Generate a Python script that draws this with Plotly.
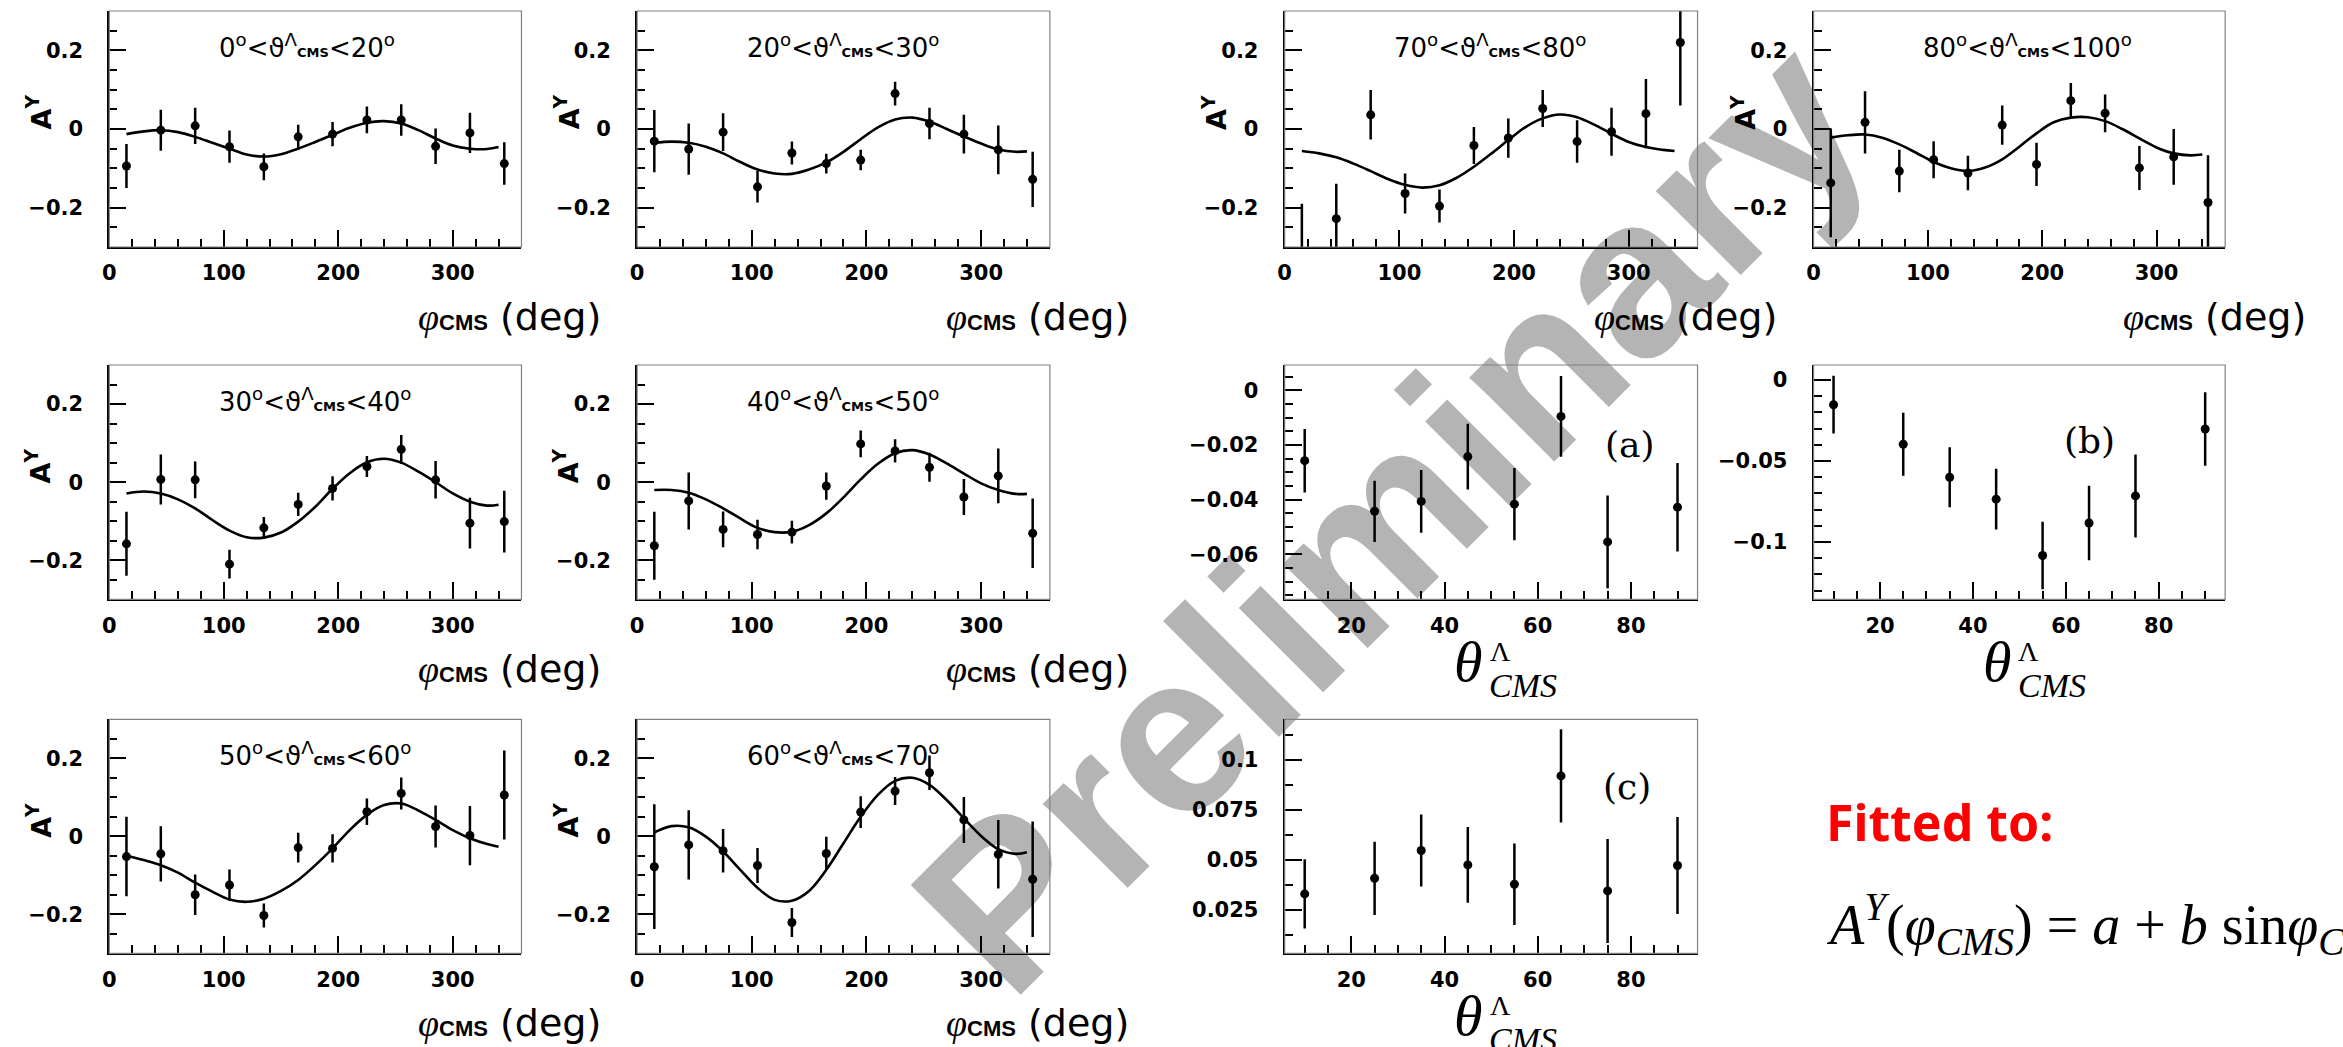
import plotly.graph_objects as go

W, H = 2343, 1047

# ---------------- data ----------------
phi_centers = [15, 45, 75, 105, 135, 165, 195, 225, 255, 285, 315, 345]
fit_phi = [15, 30, 45, 60, 75, 90, 105, 120, 135, 150, 165, 180, 195, 210, 225, 240, 255, 270, 285, 300, 315, 330, 340]

ay_0_20 = [-0.094, -0.003, 0.008, -0.045, -0.096, -0.020, -0.013, 0.023, 0.023, -0.044, -0.010, -0.088]
err_0_20 = [0.056, 0.052, 0.046, 0.041, 0.034, 0.031, 0.031, 0.034, 0.040, 0.045, 0.051, 0.054]
fit_0_20 = [-0.013, -0.006, -0.003, -0.008, -0.020, -0.035, -0.050, -0.065, -0.070, -0.064, -0.050, -0.033,
            -0.015, 0.003, 0.016, 0.020, 0.014, -0.003, -0.024, -0.042, -0.050, -0.051, -0.046]

ay_20_30 = [-0.031, -0.051, -0.008, -0.147, -0.061, -0.088, -0.079, 0.090, 0.014, -0.013, -0.053, -0.128]
err_20_30 = [0.079, 0.065, 0.048, 0.040, 0.029, 0.025, 0.026, 0.030, 0.040, 0.049, 0.062, 0.070]
fit_20_30 = [-0.035, -0.032, -0.035, -0.045, -0.062, -0.084, -0.103, -0.113, -0.114, -0.103, -0.085, -0.058,
             -0.026, 0.004, 0.024, 0.029, 0.019, 0.000, -0.019, -0.037, -0.052, -0.058, -0.057]

ay_30_40 = [-0.158, 0.007, 0.006, -0.210, -0.117, -0.057, -0.016, 0.040, 0.084, 0.006, -0.105, -0.101]
err_30_40 = [0.082, 0.064, 0.047, 0.037, 0.028, 0.030, 0.031, 0.027, 0.037, 0.048, 0.065, 0.079]
fit_30_40 = [-0.029, -0.024, -0.029, -0.044, -0.067, -0.097, -0.124, -0.141, -0.142, -0.129, -0.101, -0.063,
             -0.017, 0.023, 0.051, 0.060, 0.050, 0.027, 0.000, -0.029, -0.050, -0.060, -0.058]

ay_40_50 = [-0.163, -0.048, -0.121, -0.134, -0.128, -0.010, 0.098, 0.080, 0.038, -0.038, 0.016, -0.131]
err_40_50 = [0.087, 0.073, 0.046, 0.038, 0.029, 0.035, 0.034, 0.030, 0.037, 0.046, 0.070, 0.089]
fit_40_50 = [-0.020, -0.020, -0.027, -0.044, -0.067, -0.093, -0.117, -0.128, -0.127, -0.110, -0.080, -0.039,
             0.007, 0.047, 0.074, 0.082, 0.071, 0.048, 0.022, -0.003, -0.020, -0.030, -0.030]

ay_50_60 = [-0.052, -0.045, -0.150, -0.125, -0.203, -0.029, -0.031, 0.063, 0.110, 0.025, 0.002, 0.106]
err_50_60 = [0.102, 0.071, 0.052, 0.040, 0.031, 0.038, 0.036, 0.034, 0.041, 0.054, 0.076, 0.114]
fit_50_60 = [-0.050, -0.061, -0.074, -0.093, -0.119, -0.142, -0.162, -0.168, -0.160, -0.140, -0.112, -0.074,
             -0.031, 0.016, 0.055, 0.080, 0.084, 0.066, 0.042, 0.016, -0.005, -0.020, -0.027]

ay_60_70 = [-0.078, -0.022, -0.037, -0.075, -0.221, -0.044, 0.062, 0.116, 0.163, 0.042, -0.046, -0.110]
err_60_70 = [0.160, 0.089, 0.056, 0.045, 0.037, 0.043, 0.041, 0.036, 0.044, 0.059, 0.088, 0.148]
fit_60_70 = [0.010, 0.026, 0.023, -0.001, -0.039, -0.086, -0.132, -0.163, -0.165, -0.140, -0.086, -0.018,
             0.050, 0.106, 0.142, 0.150, 0.132, 0.093, 0.046, 0.001, -0.033, -0.045, -0.041]

ay_70_80 = [-0.350, -0.228, 0.036, -0.164, -0.196, -0.042, -0.023, 0.052, -0.032, -0.007, 0.039, 0.220]
err_70_80 = [0.160, 0.089, 0.063, 0.051, 0.042, 0.047, 0.050, 0.047, 0.054, 0.061, 0.088, 0.160]
fit_70_80 = [-0.056, -0.062, -0.072, -0.088, -0.107, -0.127, -0.142, -0.149, -0.143, -0.124, -0.096, -0.063,
             -0.028, 0.005, 0.027, 0.037, 0.030, 0.011, -0.012, -0.033, -0.046, -0.053, -0.056]

ay_80_100 = [-0.137, 0.017, -0.107, -0.078, -0.112, 0.010, -0.090, 0.072, 0.040, -0.099, -0.071, -0.187]
err_80_100 = [0.138, 0.079, 0.054, 0.047, 0.044, 0.050, 0.055, 0.045, 0.048, 0.056, 0.071, 0.120]
fit_80_100 = [-0.022, -0.016, -0.014, -0.022, -0.039, -0.061, -0.084, -0.100, -0.107, -0.098, -0.077, -0.045,
              -0.011, 0.017, 0.029, 0.030, 0.020, 0.000, -0.024, -0.047, -0.062, -0.067, -0.065]

theta_centers = [10, 25, 35, 45, 55, 65, 75, 90]
a_vals = [-0.0257, -0.0442, -0.0406, -0.0242, -0.0416, -0.0095, -0.0554, -0.0427]
a_err = [0.0116, 0.0112, 0.0115, 0.0120, 0.0132, 0.0148, 0.0170, 0.0162]
b_vals = [-0.0153, -0.0397, -0.0601, -0.0736, -0.1084, -0.0883, -0.0716, -0.0303]
b_err = [0.0178, 0.0194, 0.0185, 0.0187, 0.0208, 0.0230, 0.0256, 0.0227]
c_vals = [0.0330, 0.0408, 0.0547, 0.0475, 0.0378, 0.0920, 0.0345, 0.0472]
c_err = [0.0173, 0.0183, 0.0180, 0.0189, 0.0204, 0.0233, 0.0260, 0.0243]

phi_ticks = [0, 100, 200, 300]
phi_ticktext = ["0", "100", "200", "300"]
ay_ticks = [-0.2, 0, 0.2]
ay_ticktext = ["\u22120.2", "0", "0.2"]
theta_ticks = [20, 40, 60, 80]
theta_ticktext = ["20", "40", "60", "80"]
a_ticks = [-0.06, -0.04, -0.02, 0]
a_ticktext = ["\u22120.06", "\u22120.04", "\u22120.02", "0"]
b_ticks = [-0.1, -0.05, 0]
b_ticktext = ["\u22120.1", "\u22120.05", "0"]
c_ticks = [0.025, 0.05, 0.075, 0.1]
c_ticktext = ["0.025", "0.05", "0.075", "0.1"]

# ---------------- layout geometry (pixels) ----------------
col_x = [(102.6, 516.0), (632.0, 1046.0), (1281.5, 1695.6), (1812.0, 2224.8)]
row_y = [(11.0, 247.0), (365.0, 599.3), (719.3, 953.3)]

phi_panels = [
    (0, 0, "0", "20", ay_0_20, err_0_20, fit_0_20),
    (0, 1, "20", "30", ay_20_30, err_20_30, fit_20_30),
    (0, 2, "70", "80", ay_70_80, err_70_80, fit_70_80),
    (0, 3, "80", "100", ay_80_100, err_80_100, fit_80_100),
    (1, 0, "30", "40", ay_30_40, err_30_40, fit_30_40),
    (1, 1, "40", "50", ay_40_50, err_40_50, fit_40_50),
    (2, 0, "50", "60", ay_50_60, err_50_60, fit_50_60),
    (2, 1, "60", "70", ay_60_70, err_60_70, fit_60_70),
]
theta_panels = [
    (1, 2, "(a)", a_vals, a_err, [-0.0764, 0.0093], a_ticks, a_ticktext, 0.005, 79.8, -0.0196),
    (1, 3, "(b)", b_vals, b_err, [-0.1354, 0.0092], b_ticks, b_ticktext, 0.01, 65.2, -0.0372),
    (2, 2, "(c)", c_vals, c_err, [0.0033, 0.1203], c_ticks, c_ticktext, 0.0125, 79.2, 0.0867),
]

TICKFONT = dict(family="DejaVu Sans", size=21, color="black", weight="bold")

fig = go.Figure()
layout = dict(width=W, height=H, margin=dict(l=0, r=0, t=0, b=0),
              paper_bgcolor="white", plot_bgcolor="white", showlegend=False)
annotations = []
shapes = []


def px_x(x):
    return x / W


def px_y(y):
    return 1 - y / H


def axis_common():
    return dict(showline=True, linecolor="black", linewidth=2, ticks="inside", ticklen=17,
                tickwidth=2, tickcolor="black", showgrid=False, zeroline=False,
                tickfont=TICKFONT, fixedrange=True, tickmode="array")


idx = 0


def add_axes(r, c, xr, xt, xtt, xminor, yr, yt, ytt, yminor, ytick0):
    global idx
    idx += 1
    sx = "" if idx == 1 else str(idx)
    (x0, x1), (y0, y1) = col_x[c], row_y[r]
    xa = axis_common()
    xa.update(domain=[px_x(x0), px_x(x1)], range=xr, anchor="y" + sx, tickvals=xt, ticktext=xtt,
              ticklabelstandoff=6,
              minor=dict(ticks="inside", ticklen=8, tickwidth=2, tickcolor="black",
                         tickmode="linear", tick0=0, dtick=xminor, showgrid=False))
    ya = axis_common()
    ya.update(domain=[px_y(y1), px_y(y0)], range=yr, anchor="x" + sx, tickvals=yt, ticktext=ytt,
              ticklabelstandoff=20,
              minor=dict(ticks="inside", ticklen=8, tickwidth=2, tickcolor="black",
                         tickmode="linear", tick0=ytick0, dtick=yminor, showgrid=False))
    layout["xaxis" + sx] = xa
    layout["yaxis" + sx] = ya
    shapes.append(dict(type="rect", xref="x%s domain" % sx, yref="y%s domain" % sx,
                       x0=0, x1=1, y0=0, y1=1, line=dict(color="#808080", width=1.2), layer="above"))
    return "x" + sx, "y" + sx, (x0, x1, y0, y1)


for (r, c, lo, hi, vals, errs, fitv) in phi_panels:
    xa, ya, (x0, x1, y0, y1) = add_axes(r, c, [0, 360], phi_ticks, phi_ticktext, 20,
                                        [-0.3, 0.3], ay_ticks, ay_ticktext, 0.05, 0)
    fig.add_trace(go.Scatter(x=fit_phi, y=fitv, mode="lines", xaxis=xa, yaxis=ya,
                             line=dict(color="black", width=2.6, shape="spline", smoothing=1.0),
                             hoverinfo="skip"))
    fig.add_trace(go.Scatter(x=phi_centers, y=vals, mode="markers", xaxis=xa, yaxis=ya,
                             marker=dict(color="black", size=9),
                             error_y=dict(type="data", array=errs, visible=True, color="black",
                                          thickness=2.5, width=0)))
    # panel title
    annotations.append(dict(
        xref="paper", yref="paper", x=px_x(x0 + 108), y=px_y(y0 + 35), xanchor="left", yanchor="middle",
        showarrow=False, font=dict(family="DejaVu Sans", size=26, color="black"),
        text=f"{lo}<sup>o</sup>&lt;ϑ<sup>Λ</sup><span style='font-size:13px;font-weight:bold'>CMS</span>&lt;{hi}<sup>o</sup>"))
    # y title
    annotations.append(dict(
        xref="paper", yref="paper", x=px_x(x0 - 71), y=px_y(y0 + 101), xanchor="center", yanchor="middle",
        showarrow=False, textangle=-90, font=dict(family="DejaVu Sans", size=27, color="black", weight="bold"),
        text="A<sup>Y</sup>"))
    # x title
    annotations.append(dict(
        xref="paper", yref="paper", x=px_x(x0 + 308), y=px_y(y1 + 70), xanchor="left", yanchor="middle",
        showarrow=False, font=dict(family="DejaVu Sans", size=38, color="black"),
        text="<span style=\"font-family:'Liberation Serif';font-style:italic\">φ</span>"
             "<span style=\"font-family:'Liberation Sans';font-weight:bold;font-size:22px\">CMS</span> (deg)"))

for (r, c, lab, vals, errs, yr, yt, ytt, yminor, lx, ly) in theta_panels:
    xa, ya, (x0, x1, y0, y1) = add_axes(r, c, [5.7, 94.3], theta_ticks, theta_ticktext, 5,
                                        yr, yt, ytt, yminor, 0)
    fig.add_trace(go.Scatter(x=theta_centers, y=vals, mode="markers", xaxis=xa, yaxis=ya,
                             marker=dict(color="black", size=9),
                             error_y=dict(type="data", array=errs, visible=True, color="black",
                                          thickness=2.5, width=0)))
    annotations.append(dict(xref=xa, yref=ya, x=lx, y=ly, showarrow=False, text=lab,
                            font=dict(family="DejaVu Serif", size=36, color="black")))
    annotations.append(dict(xref="paper", yref="paper", x=px_x(x0 + 184), y=px_y(y1 + 62),
                            xanchor="center", yanchor="middle", showarrow=False,
                            font=dict(family="Liberation Serif", size=58, color="black"),
                            text="<i>θ</i>"))
    annotations.append(dict(xref="paper", yref="paper", x=px_x(x0 + 216), y=px_y(y1 + 52),
                            xanchor="center", yanchor="middle", showarrow=False,
                            font=dict(family="Liberation Serif", size=28, color="black"),
                            text="Λ"))
    annotations.append(dict(xref="paper", yref="paper", x=px_x(x0 + 203), y=px_y(y1 + 86),
                            xanchor="left", yanchor="middle", showarrow=False,
                            font=dict(family="Liberation Serif", size=34, color="black"),
                            text="<i>CMS</i>"))

# Fitted-to text and formula
annotations.append(dict(xref="paper", yref="paper", x=px_x(1822), y=px_y(822), xanchor="left",
                        yanchor="middle", showarrow=False,
                        font=dict(family="Comic Sans MS, Noto Sans", size=50, color="#ff0000", weight="bold"),
                        text="<b>Fitted to:</b>"))
annotations.append(dict(xref="paper", yref="paper", x=px_x(1822), y=px_y(924), xanchor="left",
                        yanchor="middle", showarrow=False,
                        font=dict(family="Liberation Serif", size=56, color="black"),
                        text="<i>A</i><sup><i>Y</i></sup>(<i>φ</i><sub><i>CMS</i></sub>) = <i>a</i> + <i>b</i> sin<i>φ</i><sub><i>CMS</i></sub>"))

# Watermark
cx, cy = 1372, 500
shapes.append(dict(type="line", xref="paper", yref="paper",
                   x0=px_x(cx - 10), x1=px_x(cx + 10), y0=px_y(cy + 10), y1=px_y(cy - 10),
                   line=dict(color="rgba(0,0,0,0)", width=1), layer="below",
                   label=dict(text="<b>Preliminary</b>", textangle=-45, textposition="middle",
                              xanchor="center", yanchor="middle",
                              font=dict(family="Liberation Sans", size=226, color="#b4b4b4"))))

layout["annotations"] = annotations
layout["shapes"] = shapes
fig.update_layout(**layout)

fig.write_html("out.html", config={"displayModeBar": False},
               post_script="document.body.style.margin='0';document.body.style.overflow='hidden';")
